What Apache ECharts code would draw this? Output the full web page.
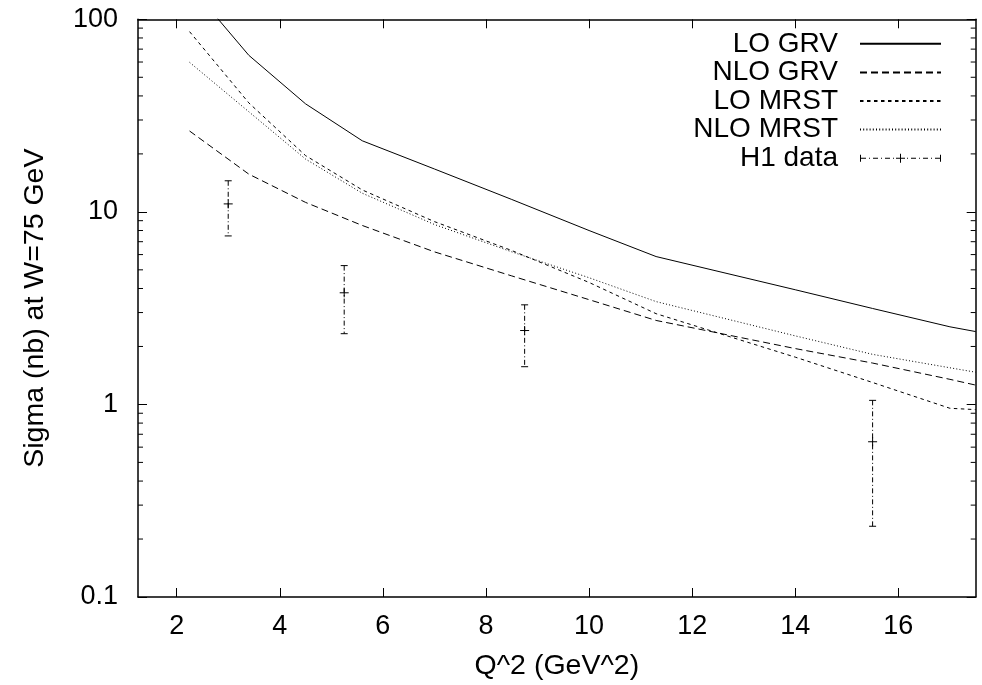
<!DOCTYPE html>
<html>
<head>
<meta charset="utf-8">
<script src="https://cdn.jsdelivr.net/npm/echarts@6/dist/echarts.min.js"></script>
<style>
html,body{margin:0;padding:0;background:#fff;}
#chart{width:982px;height:685px;}
</style>
</head>
<body>
<div id="chart"></div>
<script>
// ---- data ----
const q2 = [2.25, 3.4, 4.5, 5.6, 7, 8.5, 10, 11.3, 14, 15.5, 17, 17.5];
const loGRV   = [150, 65, 36.4, 23.4, 16.7, 11.6, 8.0, 5.86, 3.94, 3.15, 2.53, 2.39];
const nloGRV  = [26.3, 15.7, 11.2, 8.5, 6.2, 4.65, 3.5, 2.73, 1.95, 1.64, 1.35, 1.26];
const loMRST  = [86.3, 36.8, 19.6, 13.0, 8.9, 6.3, 4.3, 2.96, 1.76, 1.30, 0.955, 0.94];
const nloMRST = [59.8, 33.1, 18.8, 12.5, 8.6, 6.2, 4.55, 3.42, 2.27, 1.82, 1.55, 1.47];
const h1Q2    = [3.0, 5.25, 8.75, 15.5];
const h1Sigma = [11.0, 3.8, 2.42, 0.64];
const h1Low   = [7.5, 2.33, 1.57, 0.233];
const h1High  = [14.5, 5.26, 3.29, 1.05];
const seriesNames = ['LO GRV', 'NLO GRV', 'LO MRST', 'NLO MRST', 'H1 data'];
const xTicks = [2, 4, 6, 8, 10, 12, 14, 16];
const yMinorTicks = [0.2,0.3,0.4,0.5,0.6,0.7,0.8,0.9, 2,3,4,5,6,7,8,9, 20,30,40,50,60,70,80,90];
const xMin = 1.25, xMax = 17.5, yMin = 0.1, yMax = 100;

const FONT = 'Liberation Sans';
const zip = (xs, ys) => xs.map((x, i) => [x, ys[i]]);

const chart = echarts.init(document.getElementById('chart'), null, {renderer: 'canvas'});

function lineSeries(name, vals, dash) {
  return {
    name: name, type: 'line', data: zip(q2, vals),
    symbol: 'none', showSymbol: false, clip: true,
    lineStyle: {color: '#000', width: 1, type: dash},
    itemStyle: {color: '#000'},
    emphasis: {disabled: true}
  };
}

const h1Path = 'path://M0 1h1v7h-1z M80 1h1v7h-1z M36 4h9v1h-9z M40 0h1v9h-1z ' +
  'M1 4h5v1h-5z M9 4h1v1h-1z M13 4h5v1h-5z M21 4h1v1h-1z M25 4h5v1h-5z M33 4h1v1h-1z ' +
  'M47 4h1v1h-1z M51 4h5v1h-5z M59 4h1v1h-1z M63 4h5v1h-5z M71 4h1v1h-1z M75 4h5v1h-5z';

const axisLineStyle = {color: '#000', width: 1.5};

const option = {
  animation: false,
  backgroundColor: '#fff',
  grid: {left: 138, right: 6.3, top: 19.3, bottom: 88, containLabel: false, outerBoundsMode: 'none'},
  legend: {
    orient: 'vertical', right: 35, top: 24.5, align: 'right',
    itemWidth: 81, itemHeight: 9, itemGap: 0,
    textStyle: {fontSize: 28, fontFamily: FONT, color: '#000', lineHeight: 28.6, padding: [0, 17, 0, 0]},
    itemStyle: {opacity: 0},
    data: [
      {name: seriesNames[0]}, {name: seriesNames[1]}, {name: seriesNames[2]}, {name: seriesNames[3]},
      {name: seriesNames[4], icon: h1Path, itemStyle: {color: '#000', opacity: 1, borderWidth: 0}}
    ],
    selectedMode: false
  },
  xAxis: [{
    type: 'value', min: xMin, max: xMax, position: 'bottom',
    axisLine: {lineStyle: axisLineStyle},
    axisTick: {inside: true, length: 9, customValues: xTicks, lineStyle: {color: '#000', width: 1}},
    axisLabel: {customValues: xTicks, fontSize: 27, fontFamily: FONT, color: '#000', margin: 16},
    splitLine: {show: false},
    name: 'Q^2 (GeV^2)', nameLocation: 'middle', nameGap: 55,
    nameTextStyle: {fontSize: 28.5, fontFamily: FONT, color: '#000'}
  }, {
    type: 'value', min: xMin, max: xMax, position: 'top',
    axisLine: {lineStyle: axisLineStyle},
    axisTick: {inside: true, length: 9, customValues: xTicks, lineStyle: {color: '#000', width: 1}},
    axisLabel: {show: false}, splitLine: {show: false}
  }],
  yAxis: [{
    type: 'log', logBase: 10, min: yMin, max: yMax, position: 'left',
    axisLine: {show: true, lineStyle: axisLineStyle},
    axisTick: {show: true, inside: true, length: 9, lineStyle: {color: '#000', width: 1}},
    axisLabel: {fontSize: 27, fontFamily: FONT, color: '#000', margin: 20},
    splitLine: {show: false}, minorTick: {show: false},
    name: 'Sigma (nb) at W=75 GeV', nameLocation: 'middle', nameGap: 88,
    nameTextStyle: {fontSize: 28.5, fontFamily: FONT, color: '#000'}
  }, {
    type: 'log', logBase: 10, min: yMin, max: yMax, position: 'right',
    axisLine: {show: true, lineStyle: axisLineStyle},
    axisTick: {show: true, inside: true, length: 9, lineStyle: {color: '#000', width: 1}},
    axisLabel: {show: false}, splitLine: {show: false}
  }],
  series: [
    lineSeries(seriesNames[0], loGRV, 'solid'),
    lineSeries(seriesNames[1], nloGRV, [7, 4]),
    lineSeries(seriesNames[2], loMRST, [3.5, 3.5]),
    lineSeries(seriesNames[3], nloMRST, [1, 2.2]),
    {
      name: seriesNames[4], type: 'custom',
      data: h1Q2.map((x, i) => [x, h1Sigma[i], h1Low[i], h1High[i]]),
      encode: {x: 0, y: [1, 2, 3]},
      itemStyle: {color: '#000'},
      renderItem: function (params, api) {
        const x = api.value(0);
        const pc = api.coord([x, api.value(1)]);
        const pl = api.coord([x, api.value(2)]);
        const ph = api.coord([x, api.value(3)]);
        const st = {stroke: '#000', lineWidth: 1};
        const cap = 3.5, pl2 = 4.5;
        return {
          type: 'group',
          children: [
            {type: 'line', shape: {x1: pc[0], y1: ph[1], x2: pc[0], y2: pl[1]}, style: {stroke: '#000', lineWidth: 1, lineDash: [5, 2.5, 1, 2.5]}},
            {type: 'line', shape: {x1: pc[0] - cap, y1: ph[1], x2: pc[0] + cap, y2: ph[1]}, style: st},
            {type: 'line', shape: {x1: pc[0] - cap, y1: pl[1], x2: pc[0] + cap, y2: pl[1]}, style: st},
            {type: 'line', shape: {x1: pc[0] - pl2, y1: pc[1], x2: pc[0] + pl2, y2: pc[1]}, style: st},
            {type: 'line', shape: {x1: pc[0], y1: pc[1] - pl2, x2: pc[0], y2: pc[1] + pl2}, style: st}
          ]
        };
      }
    },
    {
      type: 'custom', silent: true,
      data: yMinorTicks.map(v => [xMin, v]),
      encode: {x: 0, y: 1},
      renderItem: function (params, api) {
        const cs = params.coordSys;
        const y = api.coord([api.value(0), api.value(1)])[1];
        const st = {stroke: '#000', lineWidth: 1};
        return {
          type: 'group',
          children: [
            {type: 'line', shape: {x1: cs.x, y1: y, x2: cs.x + 5, y2: y}, style: st},
            {type: 'line', shape: {x1: cs.x + cs.width - 5, y1: y, x2: cs.x + cs.width, y2: y}, style: st}
          ]
        };
      }
    }
  ]
};
chart.setOption(option);
</script>
</body>
</html>
